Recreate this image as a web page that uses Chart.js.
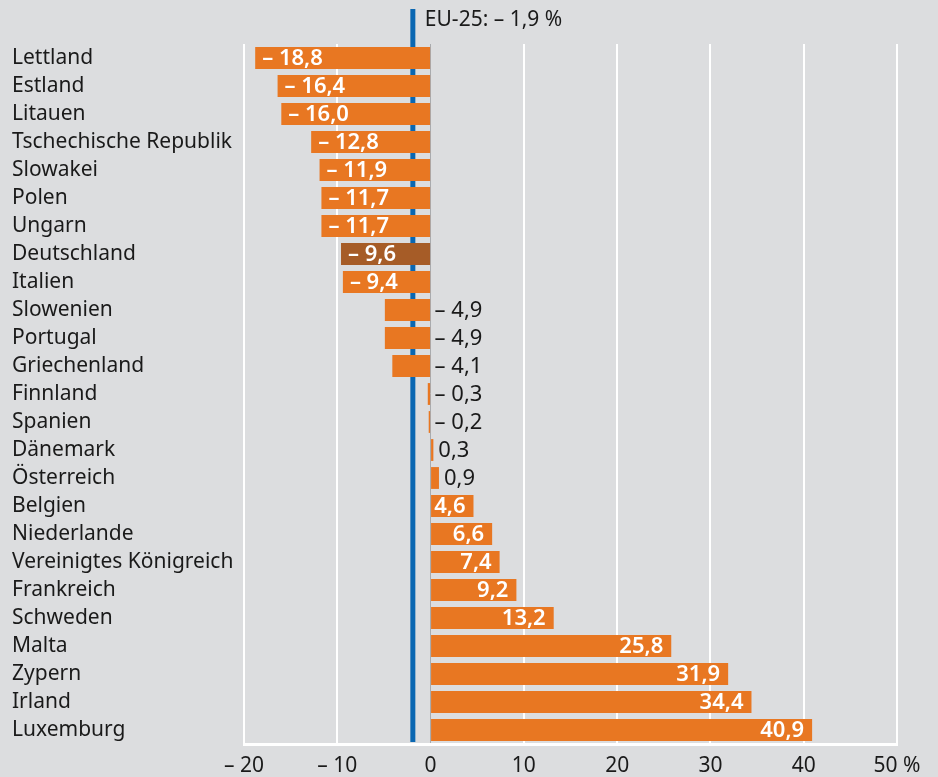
<!DOCTYPE html>
<html>
<head>
<meta charset="utf-8">
<script src="https://cdn.jsdelivr.net/npm/chart.js@4.4.1/dist/chart.umd.min.js"></script>
<style>
  html, body { margin: 0; padding: 0; background: #dcdddf; }
  canvas { display: block; }
</style>
</head>
<body>
<canvas id="chart_1" width="938" height="777"></canvas>
<script>
const laender = ["Lettland", "Estland", "Litauen", "Tschechische Republik", "Slowakei", "Polen", "Ungarn",
  "Deutschland", "Italien", "Slowenien", "Portugal", "Griechenland", "Finnland", "Spanien", "Dänemark",
  "Österreich", "Belgien", "Niederlande", "Vereinigtes Königreich", "Frankreich", "Schweden", "Malta",
  "Zypern", "Irland", "Luxemburg"];
const veraenderung = [-18.8, -16.4, -16.0, -12.8, -11.9, -11.7, -11.7, -9.6, -9.4, -4.9, -4.9, -4.1,
  -0.3, -0.2, 0.3, 0.9, 4.6, 6.6, 7.4, 9.2, 13.2, 25.8, 31.9, 34.4, 40.9];
const xTicks = [-20, -10, 0, 10, 20, 30, 40, 50];
const euWert = -1.9;
const hervorgehoben = "Deutschland";

const orange = "#e87722";
const braun = "#a65c27";
const textFarbe = "#1a1a1a";
const fontName = "'Noto Sans', sans-serif";

function fmt(v) {
  const s = Math.abs(v).toFixed(1).replace(".", ",");
  return v < 0 ? "– " + s : s;
}

const hintergrund = {
  id: "hintergrund",
  beforeDraw(chart) {
    const c = chart.ctx;
    c.save();
    c.fillStyle = "#dcdddf";
    c.fillRect(0, 0, chart.width, chart.height);
    c.restore();
  },
};

// blaue EU-Linie, liegt hinter den Balken
const euLinie = {
  id: "euLinie",
  beforeDatasetsDraw(chart) {
    const c = chart.ctx;
    const x = chart.scales.x.getPixelForValue(euWert);
    c.save();
    c.strokeStyle = "#0a67b2";
    c.lineWidth = 5;
    c.beginPath();
    c.moveTo(x, 9);
    c.lineTo(x, chart.chartArea.bottom - 2);
    c.stroke();
    c.fillStyle = textFarbe;
    c.font = "21px " + fontName;
    c.textBaseline = "middle";
    c.textAlign = "left";
    c.fillText("EU-25: " + fmt(euWert) + " %", x + 12, 20);
    c.restore();
  },
};

const balkenWerte = {
  id: "balkenWerte",
  afterDatasetsDraw(chart) {
    const c = chart.ctx;
    const meta = chart.getDatasetMeta(0);
    const x0 = chart.scales.x.getPixelForValue(0);
    c.save();
    c.textBaseline = "middle";
    meta.data.forEach((bar, i) => {
      const v = veraenderung[i];
      const y = bar.y + 1;
      if (v <= -9) {
        c.font = "600 22px " + fontName;
        c.fillStyle = "#fff";
        c.textAlign = "left";
        c.fillText(fmt(v), bar.x + 7, y);
      } else if (v < 0) {
        c.font = "22px " + fontName;
        c.fillStyle = textFarbe;
        c.textAlign = "left";
        c.fillText(fmt(v), x0 + 4, y);
      } else if (v < 2) {
        c.font = "22px " + fontName;
        c.fillStyle = textFarbe;
        c.textAlign = "left";
        c.fillText(fmt(v), bar.x + 5, y);
      } else {
        c.font = "600 22px " + fontName;
        c.fillStyle = "#fff";
        c.textAlign = "right";
        c.fillText(fmt(v), bar.x - 8, y);
      }
    });
    c.restore();
  },
};

const ct_1 = document.getElementById("chart_1");

new Chart(ct_1, {
  type: "bar",
  data: {
    labels: laender,
    datasets: [
      {
        data: veraenderung,
        backgroundColor: laender.map((l) => (l === hervorgehoben ? braun : orange)),
        borderWidth: 0,
        barPercentage: 0.78,
        categoryPercentage: 1,
      },
    ],
  },
  options: {
    indexAxis: "y",
    responsive: false,
    animation: false,
    layout: { padding: { top: 44, left: 12, right: 41, bottom: 0 } },
    plugins: {
      legend: { display: false },
      tooltip: { enabled: false },
    },
    scales: {
      x: {
        min: -20,
        max: 50,
        afterBuildTicks(scale) {
          scale.ticks = xTicks.map((v) => ({ value: v }));
        },
        afterFit(scale) {
          scale.height = 33;
        },
        grid: {
          color: (ctx) => (ctx.tick && ctx.tick.value === 0 ? "#a9abae" : "#ffffff"),
          lineWidth: (ctx) => (ctx.tick && ctx.tick.value === 0 ? 1 : 2),
          drawTicks: false,
        },
        border: { display: true, color: "#ffffff", width: 3 },
        ticks: {
          padding: 9,
          autoSkip: false,
          maxRotation: 0,
          color: textFarbe,
          font: { size: 21, family: fontName },
          callback: (v) => (v === 50 ? "50 %" : fmt(v).replace(",0", "")),
        },
      },
      y: {
        afterFit(scale) {
          scale.width = 232;
        },
        grid: { display: false },
        border: { display: false },
        ticks: {
          crossAlign: "far",
          autoSkip: false,
          padding: 0,
          color: textFarbe,
          font: { size: 21, family: fontName },
        },
      },
    },
  },
  plugins: [hintergrund, euLinie, balkenWerte],
});
</script>
</body>
</html>
